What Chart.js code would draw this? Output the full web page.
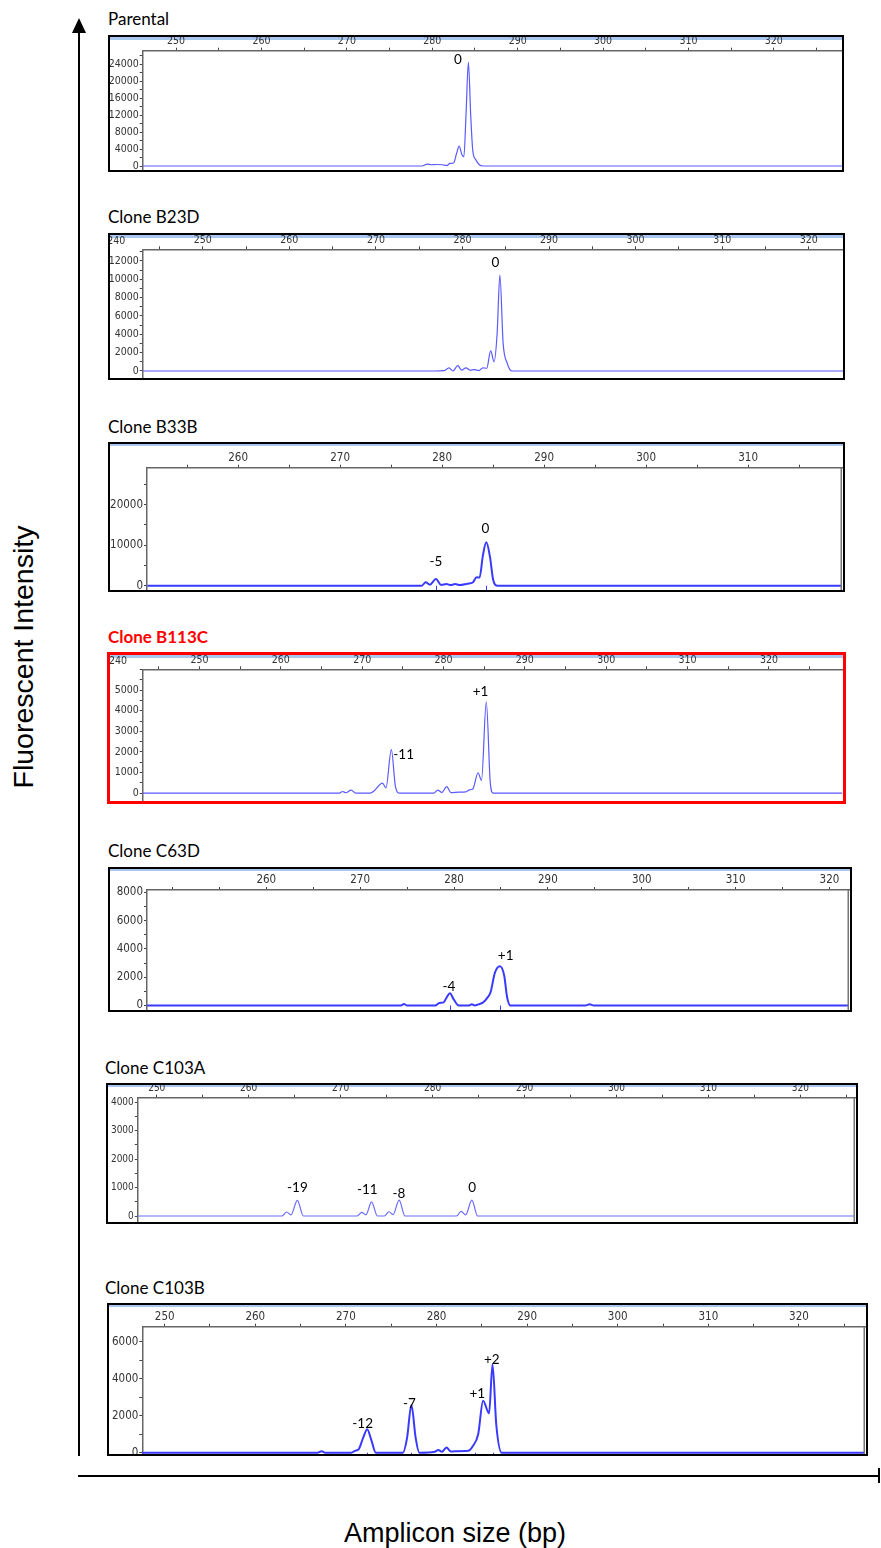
<!DOCTYPE html>
<html>
<head>
<meta charset="utf-8">
<script src="https://cdn.jsdelivr.net/npm/chart.js@4.4.1/dist/chart.umd.min.js"></script>
<style>
  body { margin: 0; background: #fff; }
  #page { position: relative; width: 881px; height: 1548px; overflow: hidden; background: #fff; }
  .title { position: absolute; font-family: Lato, "Open Sans", sans-serif; font-size: 17px; line-height: 17px; color: #000; white-space: nowrap; }
  .box { position: absolute; box-sizing: border-box; border: 2px solid #000; }
  .strip { position: absolute; background: #aac7ef; }
  canvas { position: absolute; }
  .axisTitle { position: absolute; font-family: "Liberation Sans", Arial, sans-serif; font-size: 27px; line-height: 27px; color: #000; white-space: nowrap; }
</style>
</head>
<body>
<div id="page"></div>
<script>
// fragment size (bp) / fluorescence (RFU) traces
const parentalSize = [246.1, 278.8, 279.4, 279.9, 280.5, 281.2, 281.7, 282.07, 282.5, 282.85, 283.15, 283.45, 283.7, 283.95, 284.23, 284.5, 284.75, 285.09, 285.5, 285.93, 328];
const parentalRfu = [0, 0, 450, 300, 350, 300, 100, 600, 700, 3000, 4700, 2800, 2200, 12000, 24500, 12000, 3500, 1500, 300, 0, 0];
const parentalPeakText = ['0'];
const parentalPeakSize = [283.0];
const parentalPeakRfu = [25100];
const parentalBins = [];

const b23dSize = [243.06, 276.8, 277.9, 278.44, 278.9, 279.45, 279.9, 280.4, 280.9, 281.4, 281.9, 282.36, 282.8, 283.26, 283.65, 284.0, 284.32, 284.7, 285.17, 285.72, 324];
const b23dRfu = [0, 0, 50, 350, 0, 580, 100, 350, 80, 150, 50, 350, 300, 2200, 1000, 4000, 10450, 3000, 850, 0, 0];
const b23dPeakText = ['0'];
const b23dPeakSize = [283.8];
const b23dPeakRfu = [11800];
const b23dBins = [];

const b33bSize = [251.1, 278.0, 278.39, 278.8, 279.39, 279.9, 280.44, 280.85, 281.3, 281.7, 282.5, 283.0, 283.38, 283.67, 284.0, 284.33, 284.7, 285.0, 285.45, 319.2];
const b33bRfu = [0, 0, 840, 250, 1650, 200, 400, 150, 450, 150, 500, 800, 2100, 2000, 7500, 10700, 7000, 1500, 0, 0];
const b33bPeakText = ['-5', '0'];
const b33bPeakSize = [279.4, 284.25];
const b33bPeakRfu = [5930, 14170];
const b33bBins = [279.4, 284.33];

const b113cSize = [243, 267.2, 267.6, 268.0, 268.65, 269.2, 271.0, 271.45, 272.5, 272.93, 273.59, 274.1, 274.6, 278.8, 279.3, 279.8, 280.4, 280.9, 281.9, 282.7, 283.2, 283.6, 284.25, 284.67, 285.26, 285.75, 286.1, 329];
const b113cRfu = [0, 0, 80, 20, 150, 0, 0, 100, 490, 260, 2110, 300, 0, 0, 150, 30, 320, 30, 50, 60, 160, 200, 990, 620, 4430, 500, 0, 0];
const b113cPeakText = ['-11', '+1'];
const b113cPeakSize = [275.1, 284.55];
const b113cPeakRfu = [1870, 4920];
const b113cBins = [];

const c63dSize = [247.3, 274.3, 274.66, 275.0, 278.0, 278.43, 278.9, 279.2, 279.57, 279.95, 280.5, 281.6, 281.9, 282.2, 282.6, 283.07, 283.6, 283.9, 284.35, 284.89, 285.35, 285.65, 286.0, 294.0, 294.44, 294.9, 322.1];
const c63dRfu = [0, 0, 100, 0, 0, 180, 220, 550, 870, 450, 0, 0, 80, 0, 80, 200, 590, 950, 2300, 2770, 2100, 600, 0, 0, 90, 0, 0];
const c63dPeakText = ['-4', '+1'];
const c63dPeakSize = [279.46, 285.5];
const c63dPeakRfu = [1350, 3550];
const c63dBins = [279.57, 284.89];

const c103aSize = [247.9, 263.6, 264.13, 264.6, 265.29, 265.95, 271.8, 272.3, 272.75, 273.36, 274.0, 274.75, 275.25, 275.7, 276.36, 277.0, 282.6, 283.1, 283.6, 284.27, 284.9, 325.9];
const c103aRfu = [0, 0, 140, 40, 550, 0, 0, 130, 40, 500, 0, 0, 150, 50, 560, 0, 0, 160, 40, 560, 0, 0];
const c103aPeakText = ['-19', '-11', '-8', '0'];
const c103aPeakSize = [265.3, 272.9, 276.35, 284.3];
const c103aPeakRfu = [1010, 915, 800, 1010];
const c103aBins = [];

const c103bSize = [247.5, 266.9, 267.3, 267.7, 270.6, 271.0, 271.4, 271.9, 272.35, 272.8, 273.3, 276.3, 276.75, 277.23, 277.7, 278.1, 279.8, 280.2, 280.6, 281.1, 281.6, 282.0, 283.5, 284.0, 284.6, 285.14, 285.8, 286.18, 286.6, 287.2, 327.3];
const c103bRfu = [0, 0, 80, 0, 0, 100, 180, 800, 1270, 700, 0, 0, 800, 2590, 800, 0, 50, 150, 50, 280, 60, 80, 100, 350, 1000, 2820, 2130, 4790, 1500, 0, 0];
const c103bPeakText = ['-12', '-7', '+1', '+2'];
const c103bPeakSize = [271.85, 277.0, 284.5, 286.1];
const c103bPeakRfu = [1560, 2680, 3220, 5020];
const c103bBins = [272.3, 277.2, 284.2, 286.2];

// panel geometry: outer box, axis line positions, visible ranges, tick spacing
const panels = [
  { title: 'Parental', titleX: 108, titleBase: 25, outer: [108, 35, 844, 172], border: 2, color: '#000', strip: 3,
    yAxisX: 142.7, xAxisY: 50.7, plotRight: 842, xMin: 246.09, xMax: 327.98, yMin: -941, yMax: 27176,
    yStep: 2000, yLabel: 4000, yLabelMax: 24000, tickFont: 10.5, line: '#5a5aff', lw: 1.2, rightLine: false, firstLabel: 250, edgeLabel: null,
    size: parentalSize, rfu: parentalRfu, peakText: parentalPeakText, peakSize: parentalPeakSize, peakRfu: parentalPeakRfu, bins: parentalBins },
  { title: 'Clone B23D', titleX: 108, titleBase: 223, outer: [108, 233, 845, 380], border: 2, color: '#000', strip: 3,
    yAxisX: 142.7, xAxisY: 249.3, plotRight: 843, xMin: 243.06, xMax: 323.96, yMin: -764, yMax: 13276,
    yStep: 1000, yLabel: 2000, yLabelMax: 12000, tickFont: 10.5, line: '#5a5aff', lw: 1.2, rightLine: false, firstLabel: 250, edgeLabel: 240,
    size: b23dSize, rfu: b23dRfu, peakText: b23dPeakText, peakSize: b23dPeakSize, peakRfu: b23dPeakRfu, bins: b23dBins },
  { title: 'Clone B33B', titleX: 108, titleBase: 432.7, outer: [108, 442, 845, 592], border: 2, color: '#000', strip: 1.5,
    yAxisX: 147, xAxisY: 467.7, plotRight: 842, xMin: 251.07, xMax: 319.2, yMin: -1060, yMax: 29136,
    yStep: 5000, yLabel: 10000, yLabelMax: 20000, tickFont: 11.5, line: '#3a3aff', lw: 2, rightLine: true, firstLabel: 260, edgeLabel: null,
    size: b33bSize, rfu: b33bRfu, peakText: b33bPeakText, peakSize: b33bPeakSize, peakRfu: b33bPeakRfu, bins: b33bBins },
  { title: 'Clone B113C', titleX: 108, titleBase: 643, outer: [107, 652, 846, 803.5], border: 3, color: '#ff0000', strip: 3, bold: true,
    yAxisX: 142.7, xAxisY: 669.3, plotRight: 843, xMin: 243.03, xMax: 329.1, yMin: -380, yMax: 6008,
    yStep: 500, yLabel: 1000, yLabelMax: 5000, tickFont: 10.5, line: '#5a5aff', lw: 1.2, rightLine: false, firstLabel: 250, edgeLabel: 240,
    size: b113cSize, rfu: b113cRfu, peakText: b113cPeakText, peakSize: b113cPeakSize, peakRfu: b113cPeakRfu, bins: b113cBins },
  { title: 'Clone C63D', titleX: 108, titleBase: 857, outer: [108, 867, 852, 1011.5], border: 2, color: '#000', strip: 1.5,
    yAxisX: 147, xAxisY: 890, plotRight: 849, xMin: 247.29, xMax: 322.08, yMin: -319, yMax: 8162,
    yStep: 1000, yLabel: 2000, yLabelMax: 8000, tickFont: 11.5, line: '#3a3aff', lw: 2, rightLine: true, firstLabel: 260, edgeLabel: null,
    size: c63dSize, rfu: c63dRfu, peakText: c63dPeakText, peakSize: c63dPeakSize, peakRfu: c63dPeakRfu, bins: c63dBins },
  { title: 'Clone C103A', titleX: 105, titleBase: 1074, outer: [106, 1083, 858, 1224], border: 2, color: '#000', strip: 1.5,
    yAxisX: 137.8, xAxisY: 1097.7, plotRight: 855, xMin: 247.94, xMax: 325.94, yMin: -211, yMax: 4161,
    yStep: 500, yLabel: 1000, yLabelMax: 4000, tickFont: 10, line: '#6a6aff', lw: 1.2, rightLine: true, firstLabel: 250, edgeLabel: null,
    size: c103aSize, rfu: c103aRfu, peakText: c103aPeakText, peakSize: c103aPeakSize, peakRfu: c103aPeakRfu, bins: c103aBins },
  { title: 'Clone C103B', titleX: 105, titleBase: 1294, outer: [107, 1303, 868, 1456], border: 2, color: '#000', strip: 1.5,
    yAxisX: 142.3, xAxisY: 1326.7, plotRight: 865, xMin: 247.53, xMax: 327.29, yMin: -70, yMax: 6829,
    yStep: 1000, yLabel: 2000, yLabelMax: 6000, tickFont: 11.5, line: '#3a3aff', lw: 2, rightLine: true, firstLabel: 250, edgeLabel: null,
    size: c103bSize, rfu: c103bRfu, peakText: c103bPeakText, peakSize: c103bPeakSize, peakRfu: c103bPeakRfu, bins: c103bBins }
];

const tickFamily = '"Liberation Sans Narrow", "DejaVu Sans Condensed", "Liberation Sans", sans-serif';

// ticks on every multiple of step inside [min, max]
const stepTicks = (min, max, step) => {
  const out = [];
  for (let v = Math.ceil(min / step) * step + 0; v <= max; v += step) out.push({ value: v });
  return out;
};

// chart.js insets the plot for half-labels at the ends; the original plot runs to the frame
const noInset = (s) => {
  s.paddingTop = 0;
  s.paddingBottom = 0;
  s.paddingLeft = 0;
  s.paddingRight = 0;
};

const peakLabels = {
  id: 'peakLabels',
  afterDatasetsDraw(chart, args, opts) {
    const { ctx, chartArea } = chart;
    const x = chart.scales.x;
    const y = chart.scales.y;
    ctx.save();
    if (opts.rightLine) {
      ctx.strokeStyle = '#777';
      ctx.lineWidth = 1.5;
      ctx.beginPath();
      ctx.moveTo(chartArea.right - 0.75, chartArea.top);
      ctx.lineTo(chartArea.right - 0.75, chartArea.bottom);
      ctx.stroke();
    }
    // allele bin markers under the baseline
    ctx.strokeStyle = '#3a3aff';
    ctx.lineWidth = 1;
    opts.bins.forEach((b) => {
      const px = Math.round(x.getPixelForValue(b)) + 0.5;
      ctx.beginPath();
      ctx.moveTo(px, y.getPixelForValue(0));
      ctx.lineTo(px, chartArea.bottom);
      ctx.stroke();
    });
    if (opts.edgeLabel !== null) {
      // size label just outside the visible range, as the analyser software prints it
      ctx.font = opts.tickFont + 'px ' + tickFamily;
      ctx.fillStyle = '#333';
      ctx.textAlign = 'center';
      ctx.textBaseline = 'bottom';
      ctx.fillText(String(opts.edgeLabel), x.getPixelForValue(opts.edgeLabel), x.bottom - 3);
    }
    ctx.font = '13.5px Lato, "Open Sans", sans-serif';
    ctx.fillStyle = '#000';
    ctx.textAlign = 'center';
    ctx.textBaseline = 'middle';
    opts.text.forEach((t, i) => {
      ctx.fillText(t, x.getPixelForValue(opts.size[i]), y.getPixelForValue(opts.rfu[i]));
    });
    ctx.restore();
  }
};

const page = document.getElementById('page');

const addDiv = (cls, css, text) => {
  const d = document.createElement('div');
  if (cls) d.className = cls;
  Object.assign(d.style, css);
  if (text) d.textContent = text;
  page.appendChild(d);
  return d;
};

const drawPanel = (p) => {
  const [ol, ot, or, ob] = p.outer;
  const inner = [ol + p.border, ot + p.border, or - p.border, ob - p.border];

  addDiv('title', {
    left: p.titleX + 'px', top: (p.titleBase - 15) + 'px',
    color: p.bold ? '#ff0000' : '#000', fontWeight: p.bold ? '700' : '400'
  }, p.title);

  addDiv('box', {
    left: ol + 'px', top: ot + 'px', width: (or - ol) + 'px', height: (ob - ot) + 'px',
    borderWidth: p.border + 'px', borderColor: p.color
  });
  addDiv('strip', {
    left: inner[0] + 'px', top: inner[1] + 'px', width: (inner[2] - inner[0]) + 'px', height: p.strip + 'px'
  });

  const w = Math.round(inner[2] - inner[0]);
  const h = Math.round(inner[3] - inner[1]);
  const canvas = document.createElement('canvas');
  canvas.width = w;
  canvas.height = h;
  Object.assign(canvas.style, { left: inner[0] + 'px', top: inner[1] + 'px', width: w + 'px', height: h + 'px' });
  page.appendChild(canvas);

  new Chart(canvas.getContext('2d'), {
    type: 'line',
    data: {
      datasets: [{
        data: p.size.map((s, i) => ({ x: s, y: p.rfu[i] })),
        borderColor: p.line,
        borderWidth: p.lw,
        pointRadius: 0,
        cubicInterpolationMode: 'monotone',
        fill: false
      }]
    },
    options: {
      responsive: false,
      animation: false,
      events: [],
      layout: { padding: { left: 0, top: 0, bottom: 0, right: inner[0] + w - p.plotRight } },
      plugins: {
        legend: { display: false },
        tooltip: { enabled: false },
        peakLabels: {
          text: p.peakText, size: p.peakSize, rfu: p.peakRfu, bins: p.bins, rightLine: p.rightLine,
          edgeLabel: p.edgeLabel, tickFont: p.tickFont
        }
      },
      scales: {
        x: {
          type: 'linear',
          position: 'top',
          min: p.xMin,
          max: p.xMax,
          afterBuildTicks: (s) => { s.ticks = stepTicks(p.xMin, p.xMax, 5); },
          afterFit: (s) => { s.height = p.xAxisY - inner[1]; noInset(s); },
          ticks: {
            autoSkip: false, maxRotation: 0, padding: 0,
            color: '#333', font: { family: tickFamily, size: p.tickFont },
            callback: (v) => {
              const r = Math.round(v);
              return r % 10 === 0 && r >= p.firstLabel ? String(r) : '';
            }
          },
          grid: { drawOnChartArea: false, tickLength: 3, color: '#444', lineWidth: 1 },
          border: { color: '#666', width: 1.5 }
        },
        y: {
          type: 'linear',
          position: 'left',
          min: p.yMin,
          max: p.yMax,
          afterBuildTicks: (s) => { s.ticks = stepTicks(p.yMin, p.yMax, p.yStep); },
          afterFit: (s) => { s.width = p.yAxisX - inner[0]; noInset(s); },
          ticks: {
            autoSkip: false, padding: 1,
            color: '#333', font: { family: tickFamily, size: p.tickFont },
            callback: (v) => {
              const r = Math.round(v);
              return r % p.yLabel === 0 && r <= p.yLabelMax ? String(r) : '';
            }
          },
          grid: { drawOnChartArea: false, tickLength: 3, color: '#444', lineWidth: 1 },
          border: { color: '#666', width: 1.5 }
        }
      }
    },
    plugins: [peakLabels]
  });
};

// page axes (arrows) and their titles
addDiv(null, { position: 'absolute', left: '77.5px', top: '30px', width: '2.5px', height: '1426px', background: '#000' });
addDiv(null, { position: 'absolute', left: '71.5px', top: '18px', width: '0', height: '0',
  borderLeft: '7.5px solid transparent', borderRight: '7.5px solid transparent', borderBottom: '15px solid #000' });
addDiv(null, { position: 'absolute', left: '78px', top: '1475px', width: '802px', height: '2px', background: '#000' });
addDiv(null, { position: 'absolute', left: '878px', top: '1468px', width: '2px', height: '15px', background: '#000' });

addDiv('axisTitle', { left: '23px', top: '657px', fontSize: '28.5px', transform: 'translate(-50%, -50%) rotate(-90deg)' }, 'Fluorescent Intensity');
addDiv('axisTitle', { left: '455px', top: '1533px', transform: 'translate(-50%, -50%)' }, 'Amplicon size (bp)');

panels.forEach(drawPanel);
</script>
</body>
</html>
